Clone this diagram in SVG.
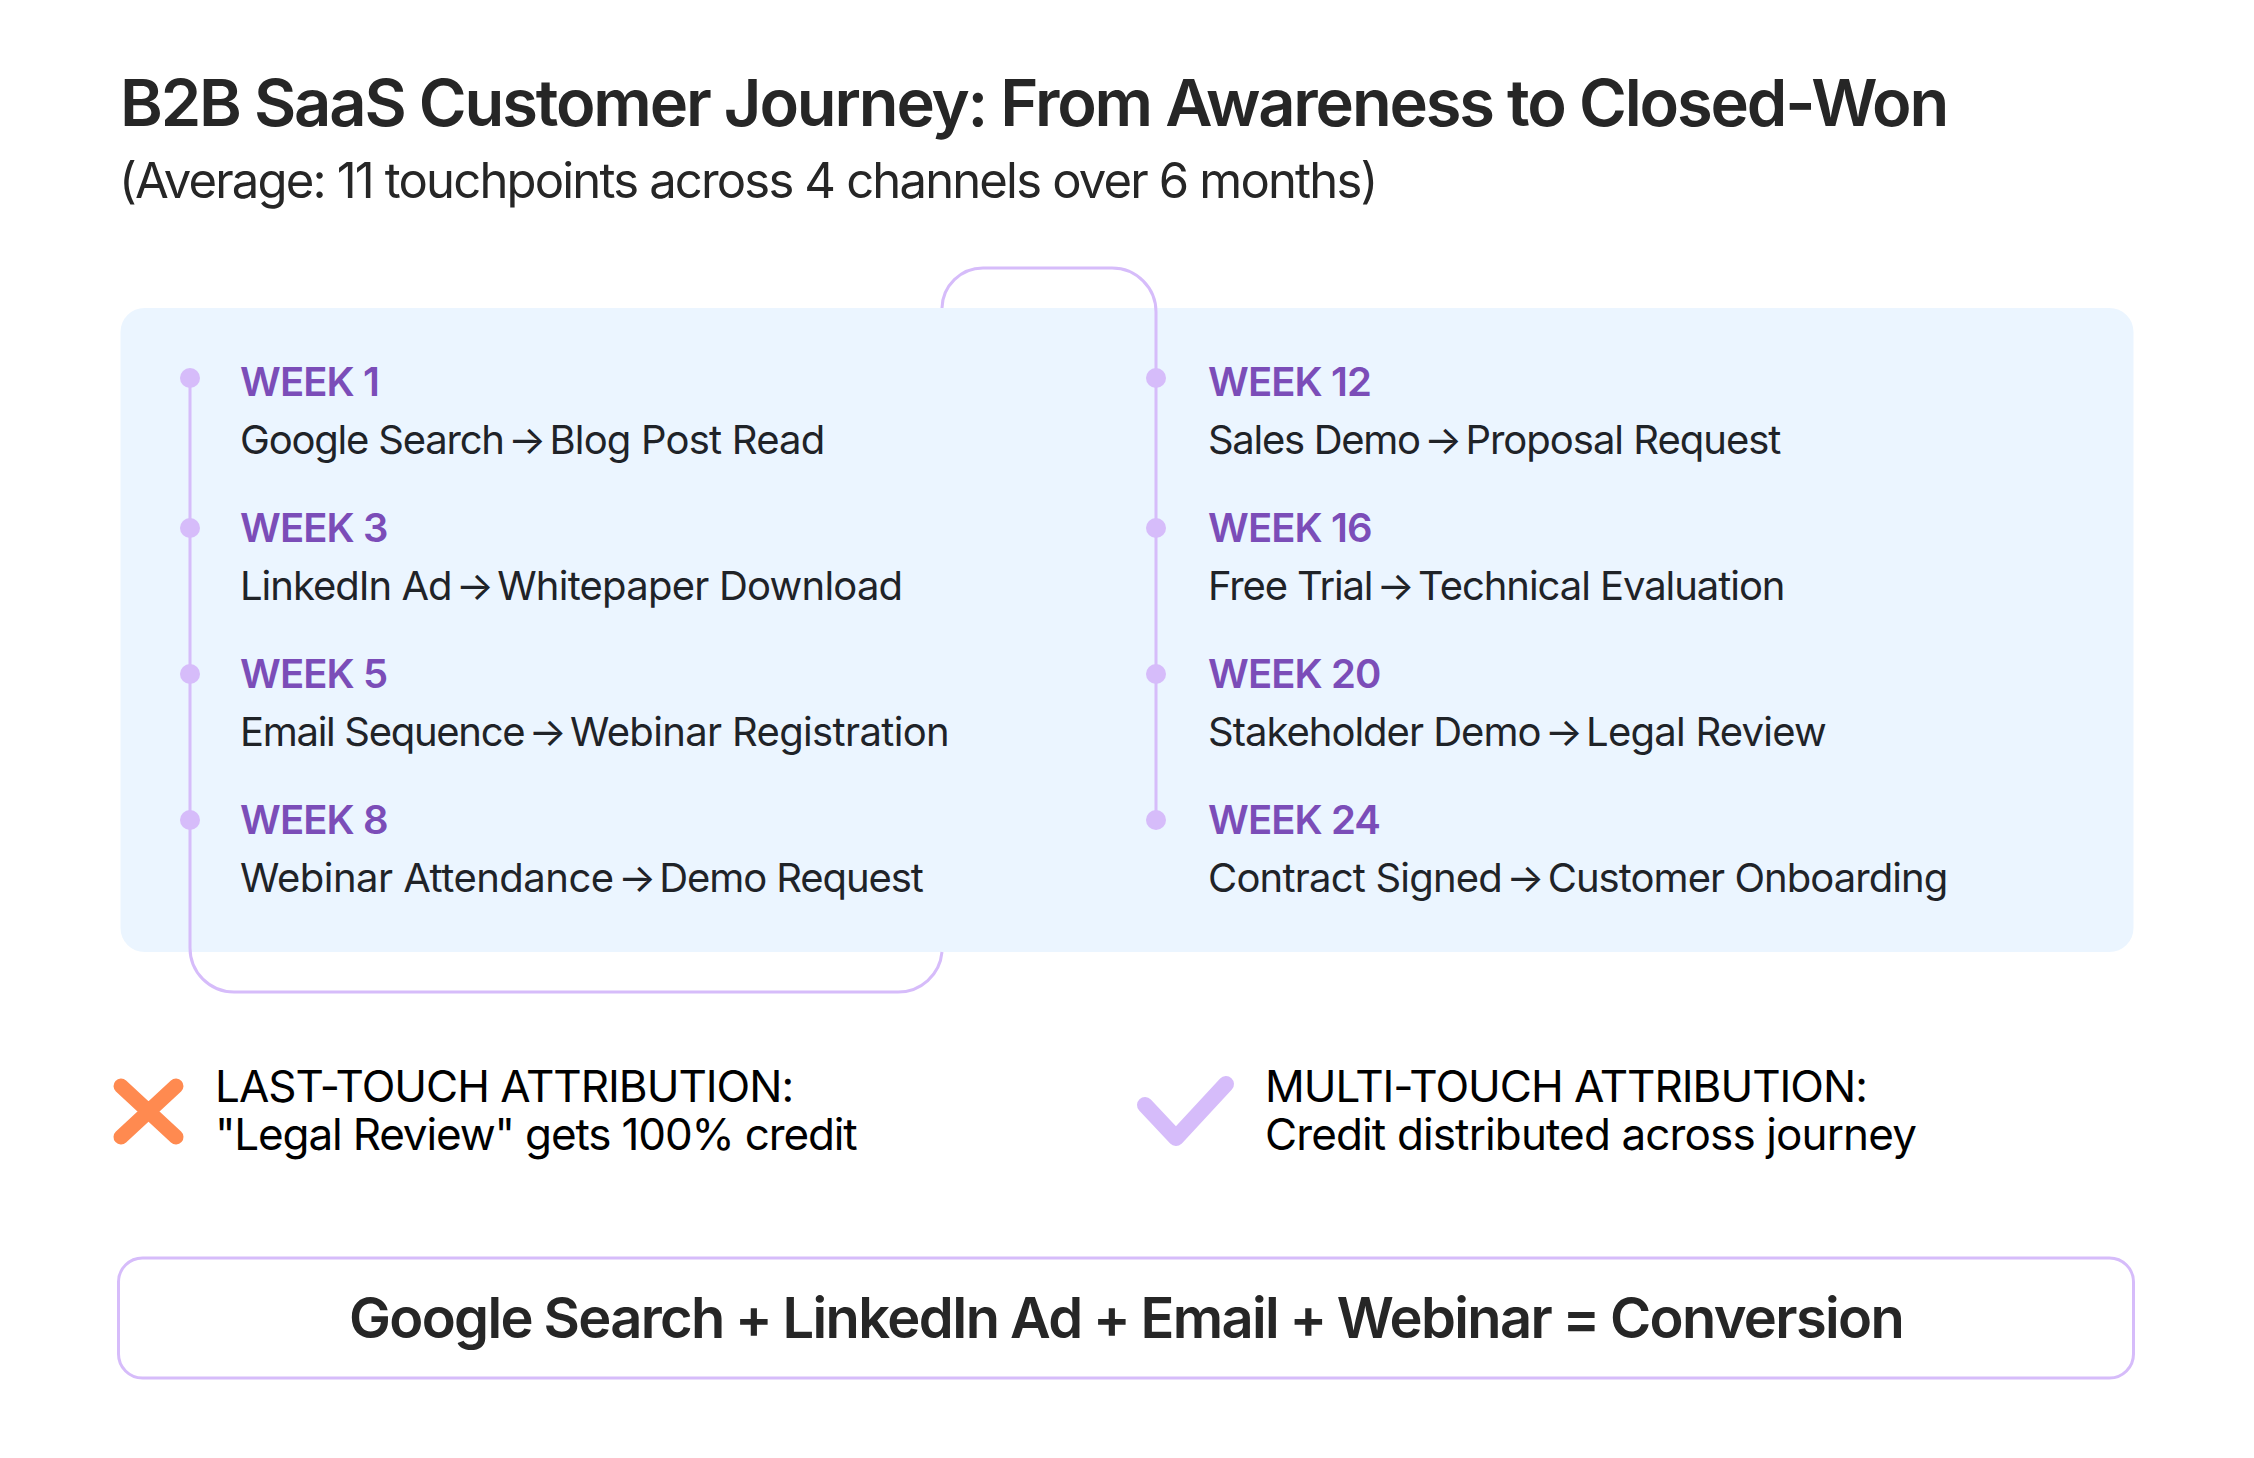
<svg xmlns="http://www.w3.org/2000/svg" width="2254" height="1458" viewBox="0 0 2254 1458">
<style>
text{font-family:Inter,"Liberation Sans",sans-serif}
.title{font-size:65px;font-weight:600;fill:#262626;letter-spacing:-2.15px}
.sub{font-size:49px;font-weight:400;fill:#262626;letter-spacing:-1.83px}
.wk{font-size:40px;font-weight:600;fill:#7B4DB8;letter-spacing:-.9px}
.st{font-size:40px;font-weight:400;fill:#1f2328;letter-spacing:-1px}
.ar{word-spacing:-6px}
.at{font-size:44px;font-weight:400;fill:#000;letter-spacing:-1px}
.conv{font-size:56px;font-weight:600;fill:#262626;letter-spacing:-1.65px;word-spacing:-1px}
.dot{fill:#D6BCFA}
.line{fill:none;stroke:#D6BCFA;stroke-width:3}
</style>
<rect width="2254" height="1458" fill="#fff"/>
<g id="header">
<text class="title" x="120" y="126">B2B SaaS Customer Journey: From Awareness to Closed-Won</text>
<text class="sub" x="119" y="198">(Average: 11 touchpoints across 4 channels over 6 months)</text>
</g>
<rect id="panel" x="120.5" y="308" width="2013" height="644" rx="24" fill="#EBF5FF"/>
<g id="connectors">
<path class="line" d="M190 378V948A44 44 0 0 0 234 992H898A44 44 0 0 0 942 952"/>
<path class="line" d="M942 308A41 41 0 0 1 983 268H1112A44 44 0 0 1 1156 312V820"/>
</g>
<g id="week1"><circle class="dot" cx="190" cy="378" r="10"/><text class="wk" x="240" y="396">WEEK 1</text><text class="st" x="240" y="454"><tspan letter-spacing="-1.2">Google Search</tspan><tspan class="ar"> → </tspan><tspan letter-spacing="-.8">Blog Post Read</tspan></text></g>
<g id="week3"><circle class="dot" cx="190" cy="528" r="10"/><text class="wk" x="240" y="542">WEEK 3</text><text class="st" x="240" y="600">LinkedIn Ad<tspan class="ar"> → </tspan><tspan letter-spacing="-.77">Whitepaper Download</tspan></text></g>
<g id="week5"><circle class="dot" cx="190" cy="674" r="10"/><text class="wk" x="240" y="688">WEEK 5</text><text class="st" x="240" y="746"><tspan letter-spacing="-1.3">Email Sequence</tspan><tspan class="ar"> → </tspan><tspan letter-spacing="-.65">Webinar Registration</tspan></text></g>
<g id="week8"><circle class="dot" cx="190" cy="820" r="10"/><text class="wk" x="240" y="834">WEEK 8</text><text class="st" x="240" y="892"><tspan letter-spacing="-.5">Webinar Attendance</tspan><tspan class="ar"> → </tspan><tspan letter-spacing="-1.1">Demo Request</tspan></text></g>
<g id="week12"><circle class="dot" cx="1156" cy="378" r="10"/><text class="wk" x="1208" y="396">WEEK 12</text><text class="st" x="1208" y="454"><tspan letter-spacing="-1.3">Sales Demo</tspan><tspan class="ar"> → </tspan>Proposal Request</text></g>
<g id="week16"><circle class="dot" cx="1156" cy="528" r="10"/><text class="wk" x="1208" y="542">WEEK 16</text><text class="st" x="1208" y="600"><tspan letter-spacing="-1.15">Free Trial</tspan><tspan class="ar"> → </tspan><tspan letter-spacing="-1.05">Technical Evaluation</tspan></text></g>
<g id="week20"><circle class="dot" cx="1156" cy="674" r="10"/><text class="wk" x="1208" y="688">WEEK 20</text><text class="st" x="1208" y="746">Stakeholder Demo<tspan class="ar"> → </tspan><tspan letter-spacing="-.76">Legal Review</tspan></text></g>
<g id="week24"><circle class="dot" cx="1156" cy="820" r="10"/><text class="wk" x="1208" y="834">WEEK 24</text><text class="st" x="1208" y="892"><tspan letter-spacing="-.8">Contract Signed</tspan><tspan class="ar"> → </tspan><tspan letter-spacing="-.95">Customer Onboarding</tspan></text></g>
<g id="last-touch">
<path d="M121 1086L176 1137M176 1086L121 1137" fill="none" stroke="#FF8A50" stroke-width="15" stroke-linecap="round"/>
<text class="at" x="215" y="1102">LAST-TOUCH ATTRIBUTION:</text>
<text class="at" x="215" y="1150" style="letter-spacing:-1.15px">"Legal Review" gets 100% credit</text>
</g>
<g id="multi-touch">
<path d="M1145 1105L1176 1138L1226 1084" fill="none" stroke="#D6BCFA" stroke-width="16" stroke-linecap="round" stroke-linejoin="round"/>
<text class="at" x="1265" y="1102">MULTI-TOUCH ATTRIBUTION:</text>
<text class="at" x="1265" y="1150" style="letter-spacing:-.87px">Credit distributed across journey</text>
</g>
<g id="conversion">
<rect x="118.5" y="1258" width="2015" height="120" rx="24" fill="#fff" stroke="#D6BCFA" stroke-width="3"/>
<text class="conv" x="1126" y="1338" text-anchor="middle">Google Search + LinkedIn Ad + Email + Webinar = Conversion</text>
</g>
</svg>
